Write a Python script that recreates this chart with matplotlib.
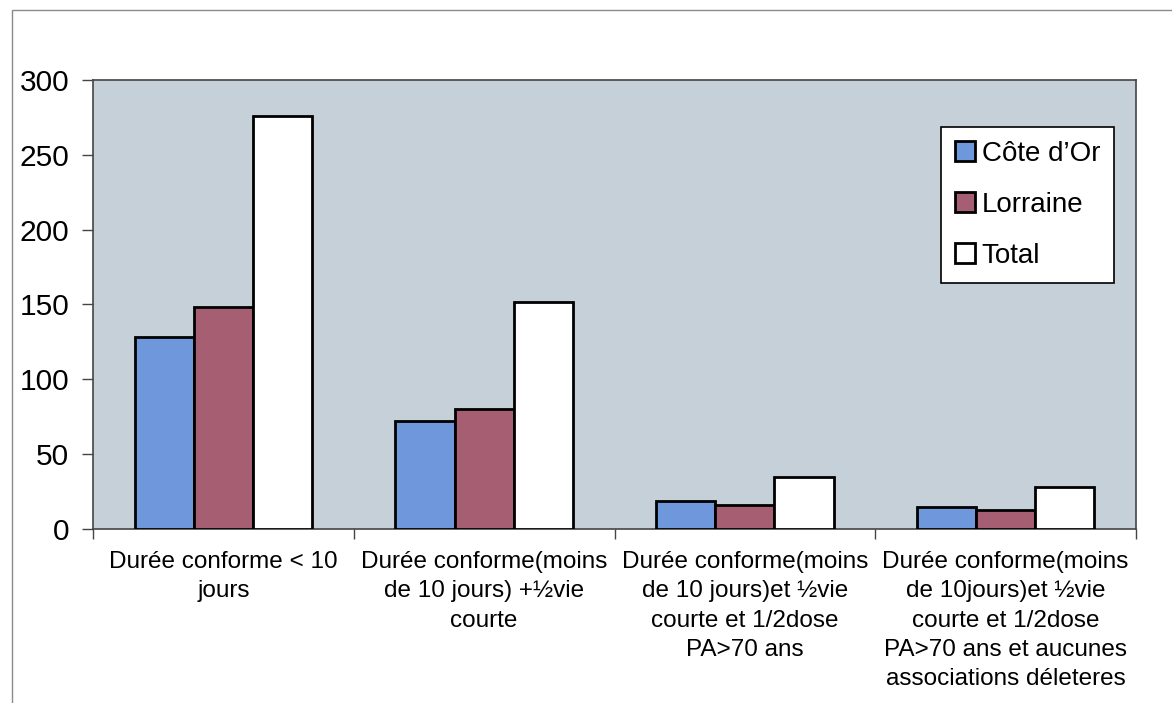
import matplotlib.pyplot as plt
import numpy as np
from matplotlib.patches import Rectangle

# ----------------------------------------------------------------------------------------------------------------------
# Données --------------------------------------------------------------------------------------------------------------
categories = ["Durée conforme < 10\njours",
              "Durée conforme(moins\nde 10 jours) +½vie\ncourte",
              "Durée conforme(moins\nde 10 jours)et ½vie\ncourte et 1/2dose\nPA>70 ans",
              "Durée conforme(moins\nde 10jours)et ½vie\ncourte et 1/2dose\nPA>70 ans et aucunes\nassociations déleteres"]
cote_dor = [128, 72, 19, 15]
lorraine = [148, 80, 16, 13]
total = [276, 152, 35, 28]
series_names = ["Côte d’Or", "Lorraine", "Total"]
y_ticks = [0, 50, 100, 150, 200, 250, 300]

# ----------------------------------------------------------------------------------------------------------------------
# Graphique ------------------------------------------------------------------------------------------------------------
plt.rcParams['font.family'] = ['Liberation Sans', 'DejaVu Sans']

W, H = 1172, 703
fig = plt.figure(figsize=(W / 100, H / 100), dpi=100)
fig.patch.set_facecolor('white')

# cadre extérieur du graphique
fig.patches.append(Rectangle((12 / W, -0.01), 1.0, 1 - 10 / H + 0.01, transform=fig.transFigure,
                             fill=False, edgecolor='#8a8a8a', linewidth=1.0))

ax = fig.add_axes([93 / W, (H - 529) / H, (1136 - 93) / W, (529 - 80) / H])
ax.set_facecolor('#c6d0d9')

x = np.arange(len(categories))
w = 0.227
colors = ['#6f98dc', '#a65f72', '#ffffff']
for k, (vals, name) in enumerate(zip([cote_dor, lorraine, total], series_names)):
    ax.bar(x + (k - 1) * w, vals, width=w, color=colors[k], edgecolor='black', linewidth=2.0, label=name,
           zorder=3)

ax.set_xlim(-0.5, 3.5)
ax.set_ylim(0, 300)
ax.set_yticks(y_ticks)
ax.tick_params(axis='y', labelsize=21.5, length=8, width=1, color='#444444', pad=9)

ax.set_xticks(x)
ax.set_xticklabels(categories, fontsize=17.5, linespacing=1.42, va='top')
ax.set_xticks(np.arange(len(categories) + 1) - 0.5, minor=True)
ax.tick_params(axis='x', which='major', length=0, pad=16)
ax.tick_params(axis='x', which='minor', length=7, width=1, color='#444444')

for s in ['left', 'bottom', 'top', 'right']:
    ax.spines[s].set_color('#444444')
    ax.spines[s].set_linewidth(1.2)

leg = ax.legend(loc='upper right', bbox_to_anchor=(1114 / W, (H - 127) / H),
                bbox_transform=fig.transFigure, fontsize=20,
                frameon=True, fancybox=False, edgecolor='black', framealpha=1, handlelength=0.72,
                handleheight=0.72, handletextpad=0.25, labelspacing=0.9, borderpad=0.5, borderaxespad=0)
leg.get_frame().set_linewidth(1.2)

plt.savefig('out.png', dpi=100)
